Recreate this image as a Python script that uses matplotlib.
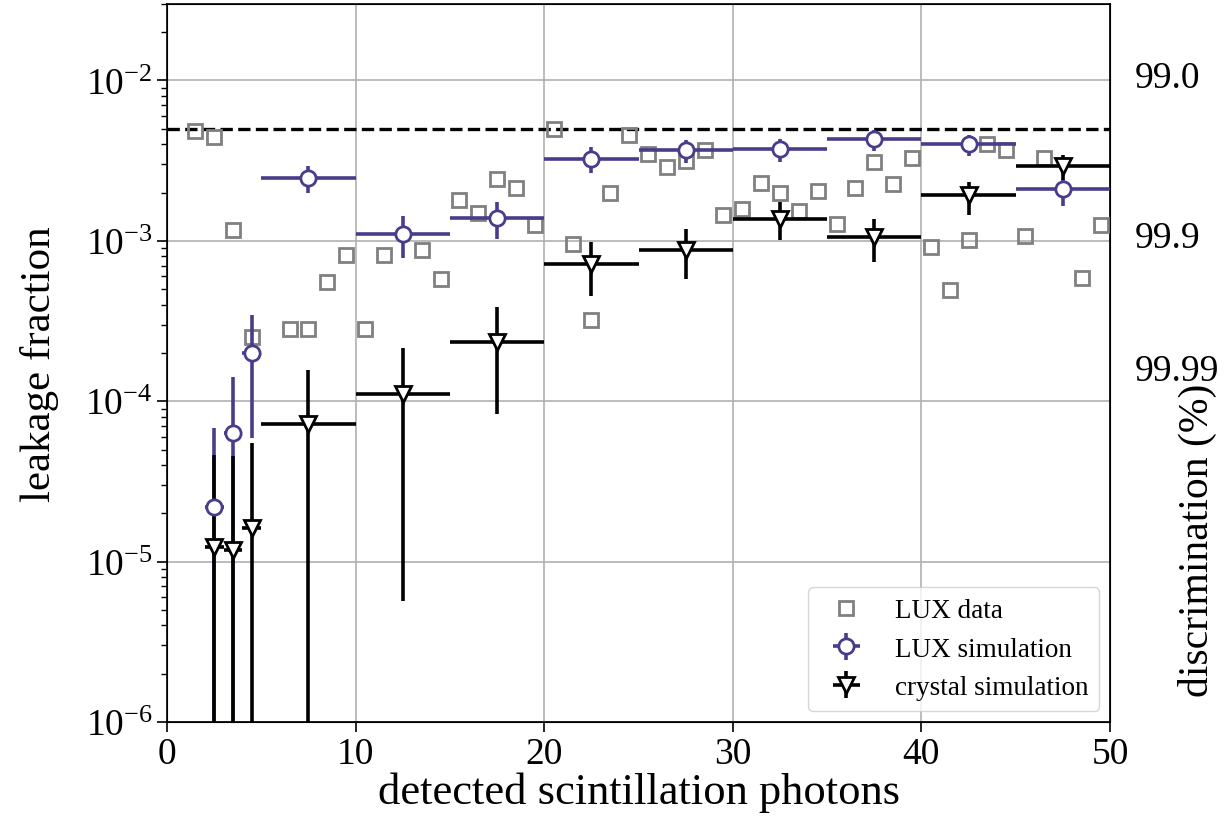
import numpy as np
import matplotlib
matplotlib.use("Agg")
import matplotlib.pyplot as plt

plt.rcParams["font.family"] = ["Liberation Serif", "DejaVu Serif"]
plt.rcParams["mathtext.fontset"] = "custom"
plt.rcParams["mathtext.rm"] = "Liberation Serif"
plt.rcParams["axes.unicode_minus"] = True

# LUX data (gray squares)
data_x = [1.5, 2.5, 3.5, 4.5, 6.5, 7.5, 8.5, 9.5, 10.5, 11.5, 13.5, 14.5,
          15.5, 16.5, 17.5, 18.5, 19.5, 20.5, 21.5, 22.5, 23.5, 24.5, 25.5,
          26.5, 27.5, 28.5, 29.5, 30.5, 31.5, 32.5, 33.5, 34.5, 35.5, 36.5,
          37.5, 38.5, 39.5, 40.5, 41.5, 42.5, 43.5, 44.5, 45.5, 46.5, 48.5,
          49.5]
data_y = [4.85e-3, 4.47e-3, 1.17e-3, 2.5e-4, 2.83e-4, 2.83e-4, 5.5e-4, 8.2e-4,
          2.83e-4, 8.2e-4, 8.8e-4, 5.8e-4, 1.79e-3, 1.5e-3, 2.42e-3, 2.14e-3,
          1.25e-3, 5.0e-3, 9.5e-4, 3.2e-4, 2.0e-3, 4.55e-3, 3.5e-3, 2.9e-3,
          3.15e-3, 3.69e-3, 1.45e-3, 1.59e-3, 2.28e-3, 1.98e-3, 1.53e-3,
          2.06e-3, 1.28e-3, 2.14e-3, 3.12e-3, 2.27e-3, 3.3e-3, 9.2e-4, 4.97e-4,
          1.01e-3, 4.0e-3, 3.71e-3, 1.08e-3, 3.29e-3, 5.87e-4, 1.25e-3]

# simulation bins
bin_x = [2.5, 3.5, 4.5, 7.5, 12.5, 17.5, 22.5, 27.5, 32.5, 37.5, 42.5, 47.5]
bin_hw = [0.5, 0.5, 0.5, 2.5, 2.5, 2.5, 2.5, 2.5, 2.5, 2.5, 2.5, 2.5]

# LUX simulation (value, lower, upper)
lux_y = [2.18e-5, 6.3e-5, 2.0e-4, 2.45e-3, 1.11e-3, 1.39e-3, 3.23e-3, 3.69e-3,
         3.72e-3, 4.3e-3, 4.02e-3, 2.11e-3]
lux_lo = [0, 0, 5.87e-5, 1.98e-3, 7.8e-4, 1.02e-3, 2.66e-3, 3.07e-3, 3.12e-3,
          3.65e-3, 3.38e-3, 1.64e-3]
lux_hi = [6.8e-5, 1.41e-4, 3.43e-4, 2.93e-3, 1.43e-3, 1.75e-3, 3.85e-3,
          4.27e-3, 4.3e-3, 4.92e-3, 4.57e-3, 2.42e-3]

# crystal simulation (value, lower, upper)
cry_y = [1.24e-5, 1.18e-5, 1.61e-5, 7.2e-5, 1.11e-4, 2.35e-4, 7.2e-4, 8.8e-4,
         1.37e-3, 1.05e-3, 1.92e-3, 2.93e-3]
cry_lo = [0, 0, 0, 0, 5.65e-6, 8.3e-5, 4.53e-4, 5.79e-4, 1.01e-3, 7.4e-4,
          1.46e-3, 2.38e-3]
cry_hi = [4.6e-5, 4.55e-5, 5.5e-5, 1.56e-4, 2.14e-4, 3.87e-4, 9.8e-4, 1.18e-3,
          1.75e-3, 1.36e-3, 2.34e-3, 3.43e-3]

threshold = 5e-3
# right-hand labels sit a little above the decades in the original
right_ticks = [1.1e-2, 1.1e-3, 1.63e-4]
right_labels = ["99.0", "99.9", "99.99"]

purple = "#483d8b"
lw_err = 2.6

fig = plt.figure(figsize=(12.31, 8.29), dpi=100)
ax = fig.add_axes([0.1357, 0.1279, 0.7660, 0.8661])
ax.set_yscale("log")
ax.set_xlim(0, 50)
ax.set_ylim(1e-6, 3e-2)
ax.grid(True, which="major", color="#b0b0b0", lw=1.2)
ax.set_axisbelow(True)

ax.axhline(threshold, color="k", ls="--", lw=2.4, zorder=2)

ax.plot(data_x, data_y, "s", ms=10, mfc="none", mec="gray", mew=2,
        zorder=3)


def asym(y, lo, hi):
    y = np.asarray(y)
    return [y - np.asarray(lo), np.asarray(hi) - y]


ax.errorbar(bin_x, lux_y, yerr=asym(lux_y, lux_lo, lux_hi), xerr=bin_hw,
            fmt="none", ecolor=purple, elinewidth=lw_err, zorder=4)
ax.errorbar(bin_x, cry_y, yerr=asym(cry_y, cry_lo, cry_hi), xerr=bin_hw,
            fmt="none", ecolor="k", elinewidth=lw_err, zorder=5)
ax.plot(bin_x, lux_y, "o", ms=11, mfc="white", mec=purple, mew=2, zorder=6)
ax.plot(bin_x, cry_y, "v", ms=11, mfc="white", mec="k", mew=2, zorder=7)

# legend proxies
h_data = ax.plot([], [], "s", ms=10, mfc="none", mec="gray", mew=2)[0]
h_lux = ax.errorbar([], [], yerr=[], xerr=[], fmt="o", ms=11, mfc="white",
                    mec=purple, mew=2, ecolor=purple, elinewidth=lw_err)
h_cry = ax.errorbar([], [], yerr=[], xerr=[], fmt="v", ms=11, mfc="white",
                    mec="k", mew=2, ecolor="k", elinewidth=lw_err)
ax.legend([h_data, h_lux, h_cry],
          ["LUX data", "LUX simulation", "crystal simulation"],
          loc="lower right", fontsize=19.5, borderaxespad=0.4)

ax.tick_params(axis="both", which="major", labelsize=27, length=7, width=1.2)
ax.tick_params(axis="y", which="minor", length=4, width=1)
ax.set_xticks([0, 10, 20, 30, 40, 50])
ax.set_xlabel("detected scintillation photons", fontsize=32, labelpad=0)
ax.set_ylabel("leakage fraction", fontsize=31)
ax.yaxis.set_label_coords(-0.115, 0.5)
for s in ax.spines.values():
    s.set_linewidth(1.2)

ax2 = ax.twinx()
ax2.set_yscale("log")
ax2.set_ylim(ax.get_ylim())
ax2.set_yticks(right_ticks)
ax2.set_yticklabels(right_labels)
ax2.yaxis.set_minor_locator(matplotlib.ticker.NullLocator())
ax2.tick_params(axis="y", length=0, pad=18, labelsize=27)
ax2.set_ylabel("discrimination (%)", fontsize=30)
ax2.yaxis.set_label_coords(1.072, 0.255)

fig.savefig("out.png", dpi=100)
